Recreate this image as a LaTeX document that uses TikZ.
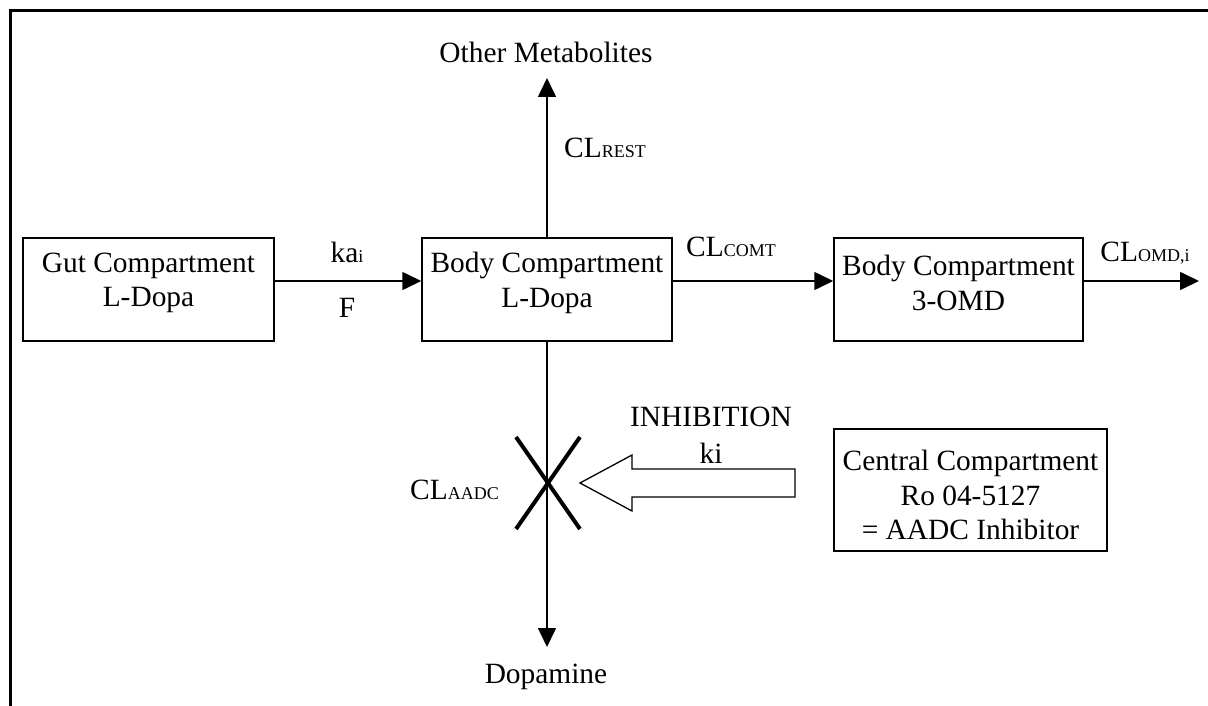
\documentclass[tikz,border=0pt]{standalone}
\usepackage{fontspec}
\setmainfont{Liberation Serif}
\usetikzlibrary{arrows.meta,calc}
\newcommand{\smcap}[1]{{\fontsize{18}{18}\selectfont #1}}
\begin{document}
\begin{tikzpicture}[x=1pt,y=-1pt,
  every node/.style={font=\fontsize{29.4}{34.5}\selectfont, inner sep=0pt},
  box/.style={draw, line width=1.5pt, minimum width=#1, minimum height=103pt},
  txt/.style={align=center},
  arr/.style={line width=1.6pt, -{Triangle[length=19pt,width=18pt]}},
  frame/.style={line width=3pt},
  cross/.style={line width=4pt},
  hollow/.style={line width=1.3pt}]
\useasboundingbox (0,0) rectangle (1208,706);
\draw[frame] (10,720) -- (10,11) -- (1220,11);
% boxes
\node[box=251pt] (gut) at (148.5,289.5) {};
\node[box=250pt] (body) at (547,289.5) {};
\node[box=249pt] (omd) at (958.5,289.5) {};
\node[draw, line width=1.5pt, minimum width=273pt, minimum height=122pt] (cen) at (970.5,490) {};
% box texts
\node[txt] (gutt) at (148.5,283) {Gut Compartment\\L-Dopa};
\node[txt] (bodyt) at (547,283) {Body Compartment\\L-Dopa};
\node[txt] (omdt) at (958.5,283) {Body Compartment\\3-OMD};
\node[txt] (cent) at (970.5,495) {Central Compartment\\Ro 04-5127\\= AADC Inhibitor};
% end points
\coordinate (ay) at (0,281);
\coordinate (upend) at (547,78);
\coordinate (downend) at (547,647);
\coordinate (rightend) at (1199,281);
\coordinate (xc) at (548,483);
% connectors
\draw[arr] (gut.east |- ay) -- (body.west |- ay);
\draw[arr] (body.east |- ay) -- (omd.west |- ay);
\draw[arr] (omd.east |- ay) -- (rightend);
\draw[arr] (body.north) -- (upend);
\draw[arr] (body.south) -- (downend);
% labels
\node (om) at (546,52) {Other Metabolites};
\node (rest) at (605,148) {CL\smcap{REST}};
\node (ka) at (347,252) {ka\smcap{i}};
\node (f) at (347,308) {F};
\node (comt) at (731,247) {CL\smcap{COMT}};
\node (omdl) at (1145,253) {CL\smcap{OMD,i}};
\node[anchor=east] (aadc) at (499,490) {CL\smcap{AADC}};
\node (inh) at (711,417) {INHIBITION};
\node (ki) at (711,453) {ki};
\node (dop) at (546,677) {Dopamine};
% inhibition cross
\draw[cross] ($(xc)+(-32,-46)$) -- ($(xc)+(32,46)$);
\draw[cross] ($(xc)+(32,-46)$) -- ($(xc)+(-32,46)$);
% hollow arrow
\draw[hollow] (580,483) -- (632,455) -- (632,469) -- (795,469) -- (795,497) -- (632,497) -- (632,511) -- cycle;
\end{tikzpicture}
\end{document}
